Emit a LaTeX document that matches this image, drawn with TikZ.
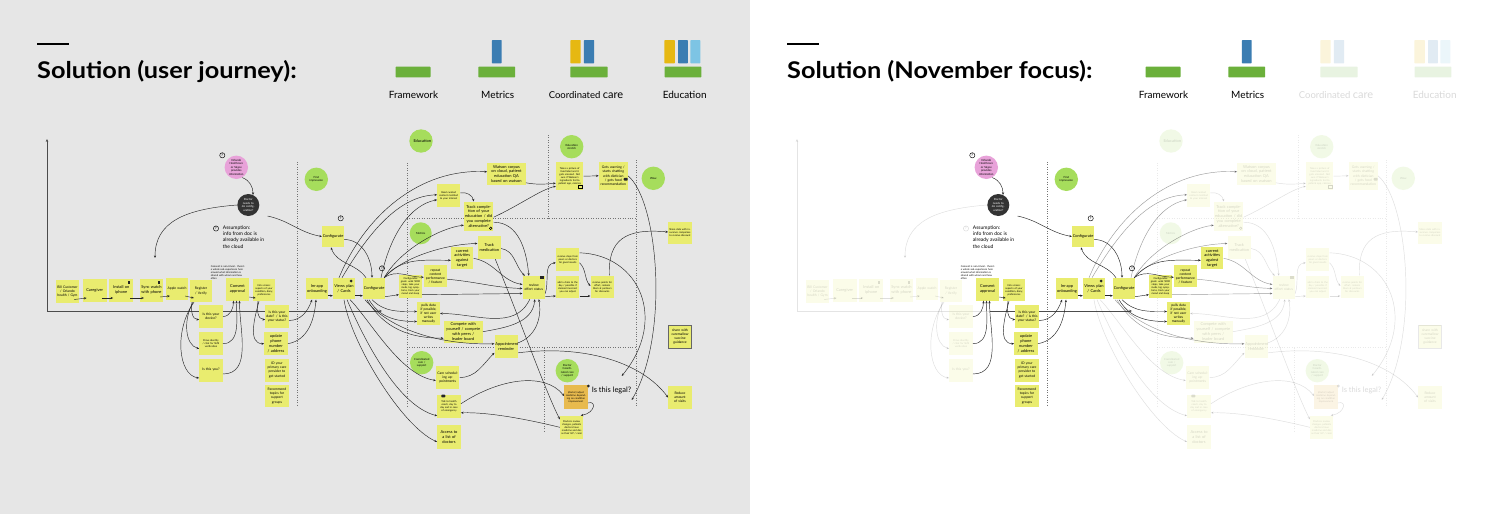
\documentclass[tikz,border=0pt]{standalone}
\usepackage{fontspec}
\setmainfont{Lato}
\usetikzlibrary{arrows.meta}
\definecolor{bgg}{HTML}{E6E6E6}
\definecolor{stick}{HTML}{E9EC6F}
\definecolor{grn}{HTML}{A6DD5C}
\definecolor{pinkc}{HTML}{E8A2D9}
\definecolor{darkc}{HTML}{333333}
\definecolor{orngc}{HTML}{E8BA4E}
\definecolor{barg}{HTML}{6BB03B}
\definecolor{barb}{HTML}{3B7DB2}
\definecolor{bary}{HTML}{E6B812}
\definecolor{barl}{HTML}{7DC4E4}
\tikzset{
 nf/.style={}, hf/.style={},
 sn/.style 2 args={fill=stick, text width=#1, inner xsep=0.7pt, inner ysep=0pt, minimum height=#2, align=center, font=\fontsize{3.4}{4.1}\selectfont},
 tn/.style={font=\fontsize{2.5}{3}\selectfont},
 fs/.style={font=\fontsize{4}{4.8}\selectfont},
 gc/.style={circle, fill=grn, minimum size=23.4pt, inner sep=0pt, text width=15pt, align=center, font=\fontsize{2.8}{3.4}\selectfont},
 e/.style={draw=black!85, line width=0.45pt, -{Stealth[length=2.6pt,width=2.2pt]}},
 axl/.style={draw=black!70, line width=0.8pt},
 dl/.style={draw=black!55, line width=0.75pt, dash pattern=on 0.75pt off 1.7pt},
 qm/.style={circle, draw=black, line width=0.45pt, minimum size=5.2pt, inner sep=0pt, font=\fontsize{3.6}{3.6}\selectfont\bfseries},
 ico/.style={fill=black!85, inner sep=0pt},
 bar/.style={inner sep=0pt, rounded corners=0.6pt},
 lgt/.style={font=\fontsize{10}{12}\selectfont, inner sep=0pt},
}
\newcommand\journey[1]{%
 % header
 \draw[line width=2.7pt] (37,44) -- (69,44);
 \node[anchor=base west, inner sep=0pt] (ttl) at (37,78) {\scalebox{1.1}[1]{\fontsize{23}{23}\selectfont\bfseries #1}};
 \node[bar, fill=barg, minimum width=35pt, minimum height=10.6pt] (fbar) at (413,72) {};
 \node[lgt] (ftxt) at (413.5,94.5) {Framework};
 \node[bar, fill=barg, minimum width=36.8pt, minimum height=10.6pt] (mbar) at (496.8,72) {};
 \node[bar, fill=barb, minimum width=9.8pt, minimum height=23.3pt] (mblu) at (496.8,51.7) {};
 \node[lgt] (mtxt) at (497.7,94.5) {Metrics};
 \node[bar, fill=barg, minimum width=37.2pt, minimum height=10.6pt, nf] (cbar) at (589,72) {};
 \node[bar, fill=bary, minimum width=10.3pt, minimum height=23.3pt, nf] (cyel) at (575.5,51.7) {};
 \node[bar, fill=barb, minimum width=10.3pt, minimum height=23.3pt, nf] (cblu) at (589,51.7) {};
 \node[lgt, nf, anchor=base] (ctxt) at (586,98.3) {\fontsize{9.5}{11}\selectfont Coordinated {\fontsize{11}{12}\selectfont care}};
 \node[bar, fill=barg, minimum width=36.8pt, minimum height=10.6pt, nf] (ebar) at (683,72) {};
 \node[bar, fill=bary, minimum width=10.3pt, minimum height=23.3pt, nf] (eyel) at (669.6,51.7) {};
 \node[bar, fill=barb, minimum width=9.8pt, minimum height=23.3pt, nf] (eblu) at (682.9,51.7) {};
 \node[bar, fill=barl, minimum width=9.9pt, minimum height=23.3pt, nf] (elbl) at (695.4,51.7) {};
 \node[lgt, nf] (etxt) at (684.7,94.5) {Education};
 % dotted frames
 \draw[dl] (297,162) -- (297,406);
 \draw[dl,nf] (407,163) -- (407,406);
 \draw[dl,nf] (407,218.5) -- (637,218.5);
 \draw[dl,nf] (548.5,135) -- (548.5,218.5);
 \draw[dl,nf] (636.5,160) -- (636.5,406);
 \draw[dl,nf] (407,347.5) -- (637,347.5);
 \draw[dl,nf] (544.5,347.5) -- (544.5,432);
 % axes
 \coordinate (ao) at (47,311);
 \coordinate (at) at (47,139);
 \coordinate (am) at (240,311);
 \coordinate (ae) at (382,311);
 \draw[axl,nf,-{Stealth[length=3pt,width=2.6pt]}] (ao) -- (at);
 \draw[axl,nf] (ao) -- (am);
 \draw[axl,-{Stealth[length=3pt,width=2.6pt]}] (am) -- (ae);
 % row of onboarding notes
 \node[sn={21.5pt}{23pt},nf] (bill) at (67.5,291.5) {Bill Customer / Orlando health / Gym};
 \node[sn={22.5pt}{23pt},nf,fs] (carg) at (94.7,290) {Caregiver};
 \node[sn={22.5pt}{23pt},nf,fs] (inst) at (121.3,290) {Install on iphone};
 \node[ico,minimum width=2.2pt,minimum height=3.6pt,nf] (ph1) at (129.3,282.5) {};
 \node[sn={21.5pt}{23pt},nf,fs] (sync) at (151.5,290) {Sync watch with phone};
 \node[ico,minimum width=2.2pt,minimum height=3.6pt,nf] (ph2) at (159,282.5) {};
 \node[sn={20.5pt}{22pt},nf] (appw) at (177,289) {Apple watch};
 \node[sn={20.5pt}{22pt},nf] (reg) at (201,291) {Register / Verify};
 \node[sn={21.5pt}{23pt},fs] (cons) at (237.5,289) {Consent approval};
 \node[tn, text width=36pt, align=left, inner sep=0pt, anchor=north west] (cnote) at (210.7,265) {Consent is non-trivial - there's a whole sub-experience here around what information is shared with whom and how often};
 \node[sn={21pt}{22pt},tn] (info) at (264,290) {Info screen: aspects of your condition, diary, preferences};
 \node[sn={22pt}{23pt},nf] (dev) at (211,316.5) {Is this your device?};
 \node[sn={22pt}{23pt},nf,tn] (prove) at (211,343.7) {Prove identity / click for SMS verification};
 \node[sn={22pt}{23pt},nf] (isyou) at (211,370) {Is this you?};
 \node[sn={22pt}{23pt}] (date) at (277,316.5) {Is this your date? / is this your status?};
 \node[sn={22pt}{23pt},fs] (upd) at (276,343.7) {update phone number / address};
 \node[sn={22pt}{23pt}] (idpc) at (277,370) {ID your primary care provider to get started};
 \node[sn={22pt}{22pt}] (rec) at (277,396) {Recommend topics for support groups};
 % circles and assumption
 \node[gc, fill=pinkc] (pink) at (236.3,167.3) {Orlando Healthcare or Skype provides information};
 \node[gc, fill=darkc, text=white, minimum size=22pt] (dark) at (248.3,205) {Doctor needs to do configuration?};
 \node[qm] (q1) at (222.3,155.3) {?};
 \node[qm,nf] (q2) at (216,228.5) {?};
 \node[anchor=north west, align=left, inner sep=0pt, font=\fontsize{5}{6.3}\selectfont] (asm) at (222.7,225.5) {Assumption:\\info from doc is\\already available in\\the cloud};
 \node[gc] (first) at (316.3,179.3) {First impression};
 \node[sn={20.5pt}{21.5pt},fs] (cfg1) at (333,236.5) {Configurate};
 \node[qm] (q3) at (340.7,218.3) {?};
 \node[sn={20.5pt}{21.5pt},fs] (onb) at (317,288.7) {Im-app onboarding};
 \node[sn={20.5pt}{21.5pt},fs] (views) at (344,288.7) {Views plan / Cards};
 \node[ico,circle,minimum size=3pt] (eye) at (351,281) {};
 \node[sn={20.5pt}{21.5pt},fs] (cfg2) at (374,288.7) {Configurate};
 \node[qm] (q4) at (382,268.3) {?};
 \node[gc,nf,fs] (edu) at (421,141) {Education};
 \node[gc,nf,minimum size=22pt] (metr) at (420.7,233.3) {Metrics};
 % metrics / education notes
 \node[sn={21.5pt}{23.3pt},tn] (tiny) at (410.5,286.7) {Configurable goals: walk 5000 steps, take your meds, log symptoms, track your mood and sleep};
 \node[sn={21.5pt}{22.3pt}] (rep) at (435.4,276.2) {repeat content performance / feature};
 \node[sn={21pt}{22pt},fs] (cur) at (462.2,258.3) {current activities against target};
 \node[sn={22pt}{23pt},nf,fs] (trmed) at (489.3,247.5) {Track medication};
 \node[sn={28pt}{29pt},nf,fs] (trcomp) at (478.7,216.2) {Track completion of your education / did you complete alternative?};
 \node[circle,draw=black,line width=0.5pt,minimum size=2.6pt,inner sep=0pt,nf] (mag) at (490.7,228.3) {};
 \node[sn={21.5pt}{23pt},tn,nf] (read) at (448.7,195.8) {Read curated content matched to your interest};
 \node[sn={21.5pt}{22.3pt}] (pulls) at (428.5,313.5) {pulls data if possible, if not user writes manually};
 \node[sn={37.5pt}{22pt},nf,fs] (comp) at (463.2,331.7) {Compete with yourself / compete with peers / leader board};
 \node[sn={22pt}{23pt},nf,fs] (appt) at (506.3,346.8) {Appointment reminder};
 \node[gc,nf] (coord) at (421.7,362.7) {Coordinated care / support};
 \node[sn={22pt}{23pt},nf] (csch) at (447.7,377.5) {Care scheduling appointments};
 \node[sn={22pt}{23pt},nf,tn] (talk) at (449,406.8) {Talk to health coach, day to day and in case of emergency};
 \node[ico,rounded corners=0.8pt,minimum width=4pt,minimum height=2.8pt,nf] (chat1) at (443.3,396) {};
 \node[sn={22pt}{23.3pt},nf,fs] (acc) at (449,437) {Access to a list of doctors};
 \node[sn={37pt}{22.3pt},nf,fs] (wats) at (506.5,173.8) {Watson corpus on cloud, patient education QA based on watson};
 \node[gc,nf] (edus) at (571.7,146.7) {Education stretch};
 \node[sn={26pt}{27.7pt},nf,tn] (pic) at (569.7,176.2) {Takes a picture of food label and it gets scanned. Not sure if Watson's ingredients fed to patient app, calories};
 \node[draw=black,line width=0.4pt,minimum width=4pt,minimum height=3pt,inner sep=0pt,nf] (img) at (580,187) {};
 \node[sn={27.5pt}{28.3pt},nf] (warn) at (613.3,175.8) {Gets warning / starts chatting with dietician / gets food recommendation};
 \node[ico,rounded corners=0.8pt,minimum width=4pt,minimum height=2.8pt,nf] (chat2) at (625.7,179.3) {};
 \node[gc,nf] (wow) at (653.3,178.3) {Wow};
 \node[sn={22pt}{22.7pt},nf,tn] (share) at (680,233) {Share data with insurance companies to receive discount};
 \node[sn={21pt}{23pt},nf] (rev) at (533.8,287.5) {review effort status};
 \node[ico,minimum width=3.6pt,minimum height=3pt,nf] (cal) at (541.7,277.5) {};
 \node[sn={22pt}{23pt},nf,tn] (claps) at (567.7,259.8) {receive claps from peers or doctors for good results};
 \node[sn={22pt}{22.7pt},nf,tn] (claim) at (567.7,287) {add a claim to the day / possible if claimed incorrect you can adjust};
 \node[sn={22pt}{22.7pt},nf,tn] (pts) at (602.3,287) {receive points for effort, redeem them at partners for discounts};
 \node[gc,nf] (dcoord) at (567.3,370.7) {Doctor Coordinated care / support};
 \node[sn={22pt}{23.3pt},nf,tn,fill=orngc] (orng) at (576,397) {(doctor) adjust medicine depending on condition improvement};
 \node[ico,circle,minimum size=3pt,nf] (hand) at (588.3,386) {};
 \node[sn={22pt}{23.3pt},nf,tn] (drev) at (571.7,427.3) {Doctors review changes, patients doctors have medicine and dos as their GP / carer};
 \node[font=\fontsize{7.5}{9}\selectfont, inner sep=0pt, nf] (legal) at (611.5,390) {Is this legal?};
 \node[sn={21pt}{22.5pt},nf,draw=black!60,line width=0.8pt] (shcm) at (680,336.7) {share with caremallow vaccine guidance};
 \node[sn={22pt}{23pt},nf] (red) at (680,397.5) {Reduce amount of visits};
 \coordinate (cL) at (155,258);
 \coordinate (lg1) at (621.7,376);
 \coordinate (lg2) at (631.7,400);
 % connectors: onboarding row
 \draw[e,nf] ([xshift=-5pt,yshift=-8pt]bill.east) -- ([xshift=4pt,yshift=-8pt]carg.west);
 \draw[e,nf] ([xshift=-5pt,yshift=-8pt]carg.east) -- ([xshift=4pt,yshift=-8pt]inst.west);
 \draw[e,nf] ([xshift=-3pt,yshift=-8pt]inst.east) -- ([xshift=4pt,yshift=-8pt]sync.west);
 \draw[e,nf] ([xshift=-3pt,yshift=-7pt]sync.east) -- ([xshift=4pt,yshift=-7pt]appw.west);
 \draw[e,nf] ([xshift=-3pt,yshift=-7pt]appw.east) -- ([xshift=4pt,yshift=-7pt]reg.west);
 \draw[e,nf] ([xshift=-9pt]reg.south) to[out=-100,in=180] ([yshift=-3pt]dev.west);
 \draw[e,nf] ([xshift=-8pt]reg.south) .. controls (183,320) and (185,345) .. ([yshift=-5pt]prove.west);
 \draw[e,nf] ([xshift=-7pt]reg.south) .. controls (174,330) and (178,375) .. ([yshift=-8pt]isyou.west);
 \draw[e] (dev.east) to[out=0,in=-90] ([xshift=-4pt]cons.south);
 \draw[e] (prove.east) to[out=0,in=-90] ([xshift=-1pt]cons.south);
 \draw[e] ([yshift=-4pt]isyou.east) to[out=0,in=-90] ([xshift=2pt]cons.south);
 \draw[e] ([yshift=-8pt]cons.east) -- ([xshift=3pt,yshift=-8pt]info.west);
 \draw[e] ([xshift=-6pt]info.south) to[out=-100,in=180] ([yshift=-3pt]date.west);
 \draw[e] ([xshift=-5pt]info.south) to[out=-105,in=180] (upd.west);
 \draw[e] ([yshift=-4pt]date.east) to[out=0,in=-110] ([xshift=-5pt]onb.south);
 \draw[e] (upd.east) to[out=10,in=-95] ([xshift=-1pt]onb.south);
 \draw[e] ([yshift=-7pt]onb.east) -- ([yshift=-7pt]views.west);
 \draw[e] ([yshift=-7pt]views.east) -- ([yshift=-7pt]cfg2.west);
 % connectors: doctor / configuration
 \draw[e] (pink.-60) to[out=-20,in=90] (dark.65);
 \draw[e,nf] (dark.west) .. controls (185,209) and (155,222) .. (cL);
 \draw[e] ([shift={(8pt,-11pt)}]dark.east) to[out=-12,in=170] (cfg1.west);
 \draw[e] ([yshift=-3pt]cfg1.east) to[out=0,in=90] ([xshift=-2pt]cfg2.north);
 \draw[e] ([xshift=-8pt]cfg2.north) to[out=125,in=-70] ([xshift=-2pt]cfg1.south);
 % connectors: plan to education / metrics
 \draw[e,hf] ([xshift=-5pt]views.north) .. controls (365,215) and (420,168) .. ([yshift=2pt]wats.west);
 \draw[e,hf] ([xshift=-2pt]views.north) .. controls (370,230) and (400,196) .. ([yshift=1pt]read.west);
 \draw[e,hf] ([xshift=7pt]cfg2.north) .. controls (390,235) and (410,205) .. ([yshift=-4pt]read.west);
 \draw[e,nf] ([yshift=3pt]read.east) to[out=10,in=100] ([xshift=-5pt]trcomp.north);
 \draw[e,hf] ([xshift=-1pt]cfg2.north east) .. controls (400,250) and (440,228) .. ([yshift=-9pt]trcomp.west);
 \draw[e,hf] ([xshift=-1pt]cfg2.north east) .. controls (405,255) and (450,244) .. ([yshift=4pt]trmed.west);
 \draw[e] ([xshift=-1pt]cfg2.north east) to[out=50,in=180] ([yshift=-2pt]cur.west);
 \draw[e] ([xshift=-1pt]cfg2.north east) to[out=35,in=180] ([yshift=-1pt]rep.west);
 \draw[e] ([yshift=-8pt]cfg2.east) -- ([yshift=-8pt]tiny.west);
 \draw[e] ([xshift=-2pt]cfg2.south) to[out=-45,in=180] ([yshift=2pt]pulls.west);
 \draw[e] ([xshift=-5pt]cfg2.south) to[out=-60,in=180] ([yshift=-8pt]pulls.west);
 \draw[e,hf] ([xshift=-7pt]cfg2.south) to[out=-60,in=180] ([yshift=-6.5pt]comp.west);
 \draw[e,hf] ([xshift=-9pt]cfg2.south) .. controls (390,330) and (440,345) .. ([yshift=3pt]appt.west);
 \draw[e,nf] ([xshift=6pt]views.south) .. controls (370,320) and (400,375) .. ([yshift=-3pt]csch.west);
 \draw[e,nf] ([xshift=3pt]views.south) .. controls (360,330) and (395,405) .. ([yshift=-9pt]talk.west);
 \draw[e,nf] (views.south) .. controls (350,340) and (400,425) .. ([yshift=-5pt]acc.west);
 % connectors: education stretch
 \draw[e,nf] ([yshift=-1pt]trcomp.east) .. controls (520,205) and (540,190) .. ([yshift=-10pt]pic.west);
 \draw[e,nf] ([yshift=-9pt]wats.east) to[out=-10,in=185] ([yshift=-7pt]pic.west);
 \draw[e,nf] (pic.east) -- (warn.west);
 % connectors: effort status
 \draw[e,nf] ([yshift=-6pt]trcomp.east) to[out=0,in=95] ([xshift=-5pt]rev.north);
 \draw[e,nf] ([yshift=-1pt]trmed.east) to[out=-10,in=135] ([xshift=-9pt]rev.north);
 \draw[e,hf] (cur.east) to[out=-10,in=170] ([yshift=3pt]rev.west);
 \draw[e,hf] ([yshift=-3pt]rep.east) to[out=-5,in=178] ([yshift=-1pt]rev.west);
 \draw[e,hf] ([yshift=-8pt]tiny.east) -- ([yshift=-6pt]rev.west);
 \draw[e,nf] ([xshift=-4pt]rev.south) to[out=-115,in=0] (pulls.east);
 \draw[e,nf] (comp.east) to[out=10,in=-95] ([xshift=1pt]rev.south);
 \draw[e,nf] ([yshift=4pt]appt.east) to[out=20,in=-80] ([xshift=5pt]rev.south);
 \draw[e,nf] (csch.east) to[out=0,in=-135] ([yshift=-6pt]appt.west);
 \draw[e,nf] ([yshift=3pt]talk.east) .. controls (500,378) and (545,372) .. ([yshift=1pt]orng.west);
 \draw[e,nf] (drev.west) .. controls (530,420) and (490,412) .. ([yshift=-6pt]talk.east);
 \draw[e,nf] ([yshift=-6pt]orng.east) .. controls (597,400) and (595,413) .. ([xshift=9pt]drev.north);
 \draw[e,nf] ([xshift=6pt]trmed.south) .. controls (520,320) and (545,390) .. ([yshift=8pt]drev.west);
 \draw[e,nf] ([yshift=-6pt]appt.east) .. controls (580,345) and (640,360) .. (red.west);
 \draw[e,nf] ([yshift=-6pt]rev.east) to[out=70,in=185] ([yshift=-3pt]claps.west);
 \draw[e,nf] ([yshift=-9pt]rev.east) -- ([yshift=-9pt]claim.west);
 \draw[e,nf] ([yshift=-9pt]claim.east) -- ([yshift=-9pt]pts.west);
 \draw[e,nf] ([yshift=-3pt]claps.east) to[out=-45,in=130] ([yshift=1pt]pts.west);
 \draw[e,nf] ([xshift=7pt]pts.north) .. controls (608,240) and (625,228) .. ([yshift=1pt]share.west);
 \draw[e,nf] ([yshift=7pt]claps.east) .. controls (640,255) and (668,320) .. (lg1);
 \draw[e,nf] (warn.east) .. controls (658,200) and (670,335) .. (lg2);
}
\begin{document}
\begin{tikzpicture}[x=1pt,y=-1pt]
 \useasboundingbox (0,0) rectangle (1500,514);
 \fill[bgg] (0,0) rectangle (750,514);
 \fill[white] (750,0) rectangle (1500,514);
 \begin{scope}[name prefix=L-]
  \journey{Solution (user journey):}
 \end{scope}
 \begin{scope}[xshift=750pt, name prefix=R-, nf/.style={opacity=0.15}, hf/.style={opacity=0.45}]
  \journey{Solution (November focus):}
 \end{scope}
\end{tikzpicture}
\end{document}
